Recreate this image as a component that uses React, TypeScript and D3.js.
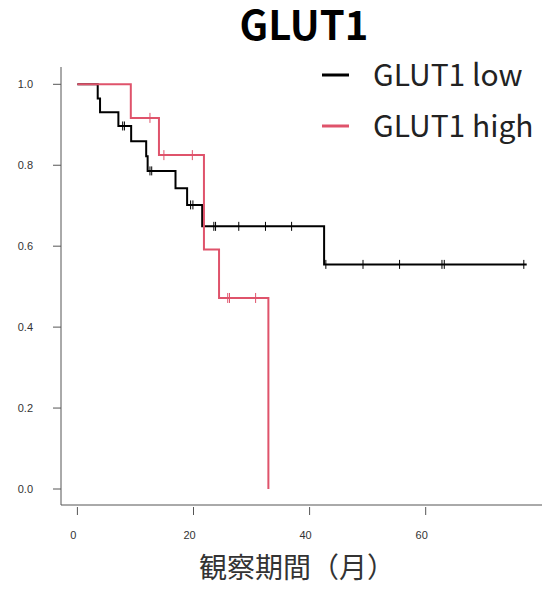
import React from "react";
import * as d3 from "d3";

// Kaplan-Meier step data (time in months, survival probability)
const lowTimes = [0, 3.5, 3.9, 7.06, 9.26, 11.85, 12.1, 16.9, 18.9, 21.5, 42.5, 77.4];
const lowSurv = [1, 0.965, 0.931, 0.897, 0.859, 0.822, 0.786, 0.743, 0.702, 0.649, 0.555, 0.555];
const lowCensor = [7.8, 8.1, 12.5, 12.8, 19.5, 19.9, 23.5, 23.8, 27.8, 32.4, 36.9, 42.8, 49.2, 55.5, 62.8, 63.2, 76.9];

const highTimes = [0, 9.2, 14.05, 21.8, 24.4, 32.9];
const highSurv = [1, 0.917, 0.825, 0.592, 0.472, 0];
const highCensor = [12.5, 14.9, 19.8, 25.9, 26.2, 30.7];

const xTicks = [0, 20, 40, 60];
const yTicks = [0, 0.2, 0.4, 0.6, 0.8, 1.0];
const seriesNames = ["GLUT1 low", "GLUT1 high"];
const seriesColors = ["#000000", "#DF536B"];
const title = "GLUT1";
const xLabel = "観察期間（月）";

const W = 542;
const H = 591;

export default function App() {
  const x = d3.scaleLinear().domain([0, 60]).range([77.4, 425.7]);
  const y = d3.scaleLinear().domain([0, 1]).range([489, 84.3]);

  const line = d3
    .line<[number, number]>()
    .x((d) => x(d[0]))
    .y((d) => y(d[1]))
    .curve(d3.curveStepAfter);

  const survAt = (times: number[], surv: number[], t: number) => {
    let s = surv[0];
    for (let i = 0; i < times.length; i++) if (times[i] <= t) s = surv[i];
    return s;
  };

  const series = [
    { times: lowTimes, surv: lowSurv, censor: lowCensor, color: seriesColors[0], h: 4.5 },
    { times: highTimes, surv: highSurv, censor: highCensor, color: seriesColors[1], h: 5 },
  ];

  const axisColor = "#555";
  const tickFont = "'Liberation Sans', Arial, sans-serif";
  const jpFont = "'Noto Sans CJK JP', sans-serif";

  return (
    <svg width={W} height={H} style={{ position: "absolute", left: 0, top: 0, background: "#fff" }}>
      <rect x={0} y={0} width={W} height={H} fill="#fff" />
      {/* title */}
      <text x={304} y={40} textAnchor="middle" fontFamily={jpFont} fontWeight="bold" fontSize={40} fill="#000">
        {title}
      </text>

      {/* axes */}
      <line x1={61} y1={67} x2={61} y2={505} stroke={axisColor} strokeWidth={1} />
      <line x1={61} y1={505} x2={542} y2={505} stroke={axisColor} strokeWidth={1} />
      {yTicks.map((t) => (
        <g key={"y" + t}>
          <line x1={53} x2={61} y1={y(t)} y2={y(t)} stroke={axisColor} strokeWidth={1} />
          <text x={33} y={y(t)} dy="0.35em" textAnchor="end" fontFamily={tickFont} fontSize={11} fill="#333">
            {t.toFixed(1)}
          </text>
        </g>
      ))}
      {xTicks.map((t) => (
        <g key={"x" + t}>
          <line x1={x(t)} x2={x(t)} y1={507} y2={515} stroke={axisColor} strokeWidth={1} />
          <text x={x(t) - 4} y={535} dy="0.35em" textAnchor="middle" fontFamily={tickFont} fontSize={11} fill="#333">
            {t}
          </text>
        </g>
      ))}
      <text x={297} y={578} textAnchor="middle" fontFamily={jpFont} fontSize={28} fill="#333">
        {xLabel}
      </text>

      {/* curves */}
      {series.map((s, i) => (
        <g key={"s" + i}>
          <path
            d={line(s.times.map((t, j) => [t, s.surv[j]] as [number, number])) || ""}
            fill="none"
            stroke={s.color}
            strokeWidth={2}
          />
          {s.censor.map((c, j) => {
            const v = survAt(s.times, s.surv, c);
            return (
              <line
                key={j}
                x1={x(c)}
                x2={x(c)}
                y1={y(v) - s.h}
                y2={y(v) + s.h}
                stroke={s.color}
                strokeWidth={1}
              />
            );
          })}
        </g>
      ))}

      {/* legend */}
      {seriesNames.map((n, i) => (
        <g key={"l" + i}>
          <line x1={322} x2={349} y1={75 + i * 51} y2={75 + i * 51} stroke={seriesColors[i]} strokeWidth={3} />
          <text x={373} y={75 + i * 51} dy="0.36em" fontFamily={jpFont} fontSize={30} fill="#222">
            {n}
          </text>
        </g>
      ))}
    </svg>
  );
}
